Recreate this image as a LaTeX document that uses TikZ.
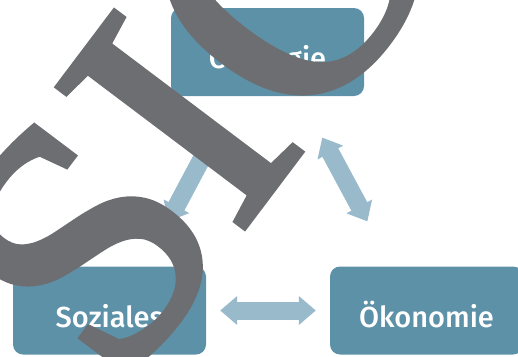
\documentclass[tikz,border=0pt]{standalone}
\usepackage{fontspec}
\usetikzlibrary{arrows.meta,positioning}
\newfontfamily\boxfont{Fira Sans Medium}
\newfontfamily\markfont{Liberation Serif}[FakeBold=2]
\definecolor{boxblue}{HTML}{5D91A8}
\definecolor{linkblue}{HTML}{98BACB}
\definecolor{markgray}{HTML}{6D6E71}
\def\pillarsep{317pt}

\begin{document}
\begin{tikzpicture}[x=1pt,y=-1pt]
    \tikzstyle{pillar}=[rounded corners=10pt,fill=boxblue,text=white,minimum width=193pt,minimum height=88pt,inner sep=0pt,text height=33pt,text depth=0pt,font=\boxfont\fontsize{29}{29}\selectfont]
    \tikzstyle{link}=[draw=linkblue,line width=18pt,<->,>={Triangle[width=28pt,length=17pt]}]
    \tikzstyle{lettering}=[text=markgray,inner sep=0pt,font=\markfont\fontsize{355}{355}\selectfont]

    \path[use as bounding box] (0,0) rectangle (518,356);
    \clip (0,0) rectangle (518,356);

    % Draw the three pillars
    \node[pillar] (oekol) at (267.5,52) {Ökologie};
    \node[pillar] (sozial) at (109.5,310.5) {Soziales};
    \node[pillar,right of=sozial,node distance=\pillarsep] (oekon) {Ökonomie};

    % Connect the pillars with each other
    \foreach \dx/\dest/\tx in {-32.5/sozial/35,32.5/oekon/-35}
        \path[link,shorten <=47pt,shorten >=51pt] ([xshift=\dx pt]oekol.south) -- ([xshift=\tx pt]\dest.north);
    \path[link,shorten <=14pt,shorten >=14pt] (sozial.east) -- (oekon.west);

    % Lettering on top
    \node[lettering,rotate=53,anchor=base] (sio) at (290,166) {SIO};
\end{tikzpicture}
\end{document}
